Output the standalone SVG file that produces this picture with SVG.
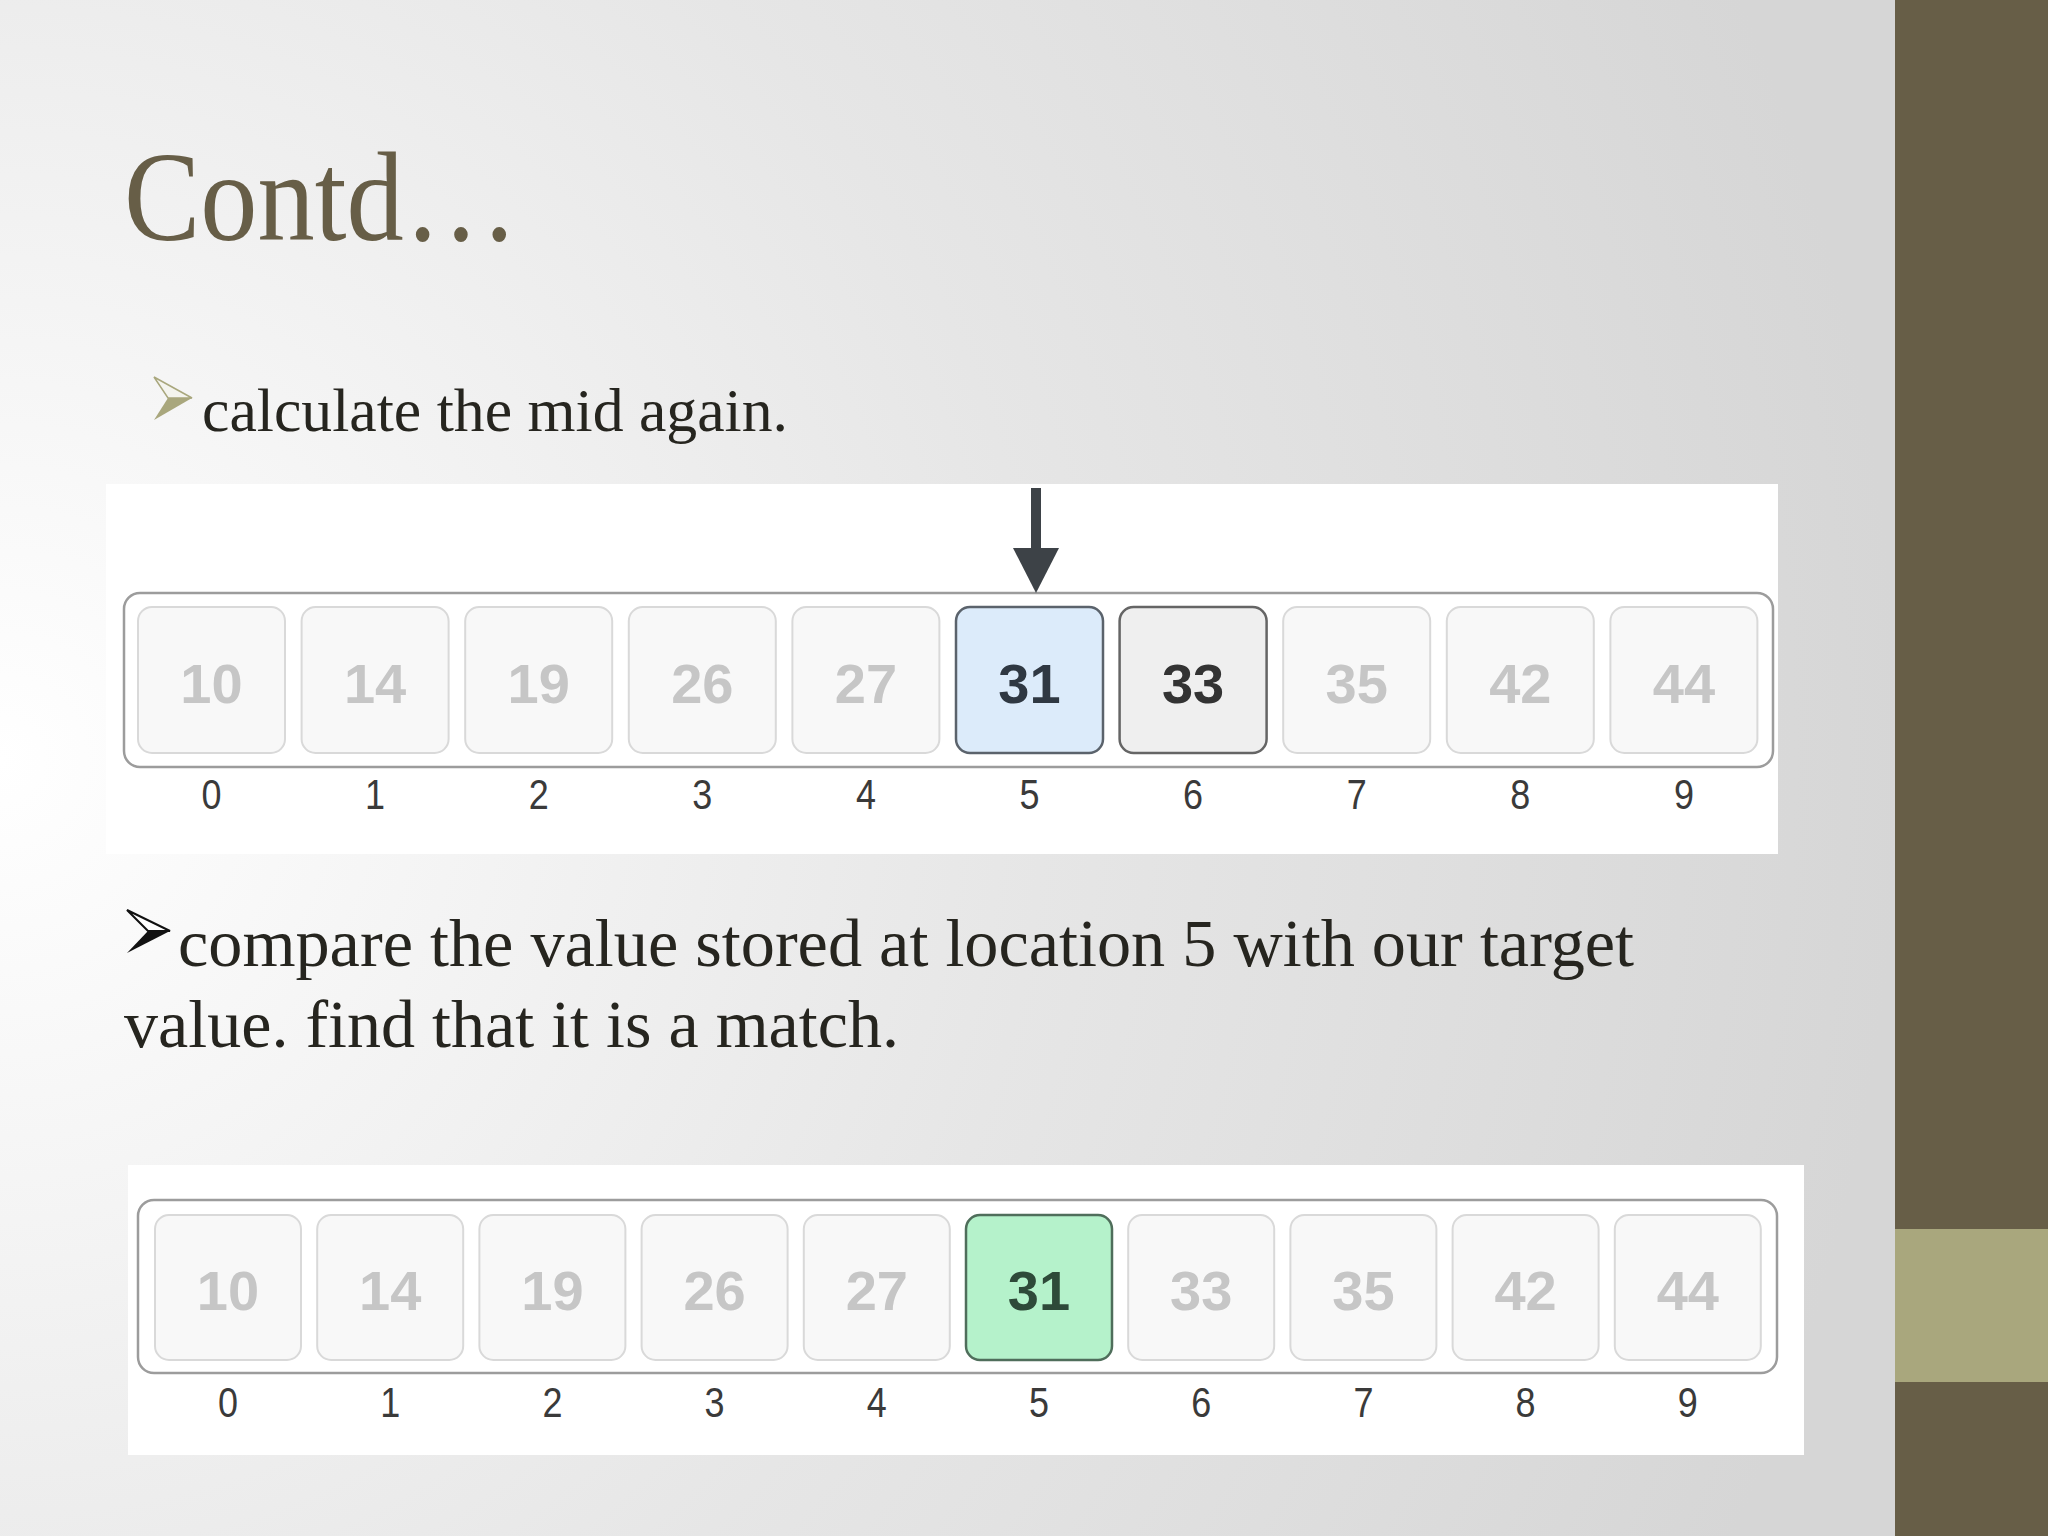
<svg xmlns="http://www.w3.org/2000/svg" width="2048" height="1536" viewBox="0 0 2048 1536">
  <defs>
    <radialGradient id="bg" gradientUnits="userSpaceOnUse" cx="0" cy="760" r="1900">
      <stop offset="0" stop-color="#ffffff"/>
      <stop offset="0.55" stop-color="#e6e6e6"/>
      <stop offset="1" stop-color="#d6d6d6"/>
    </radialGradient>
  </defs>
  <style>
    .title { font-family: "Liberation Serif", "Times New Roman", serif; font-size: 128px; fill: #675E47; }
    .body { font-family: "Liberation Serif", "Times New Roman", serif; fill: #26251f; }
    .outer { fill: #ffffff; stroke: #9c9c9c; stroke-width: 2.5; }
    .cell { fill: #f8f8f8; stroke: #d9d9d9; stroke-width: 2; }
    .val { font-family: "Liberation Sans", Arial, sans-serif; font-size: 56px; font-weight: bold; fill: #c6c6c6; text-anchor: middle; }
    .idx { font-family: "Liberation Sans", Arial, sans-serif; font-size: 42px; fill: #3a3a3a; text-anchor: middle; }
    .mid { fill: #dcebfa; stroke: #5b636c; stroke-width: 2.5; }
    .cmp { fill: #efefef; stroke: #656565; stroke-width: 2.5; }
    .found { fill: #b5f2cb; stroke: #4f6e5b; stroke-width: 2.5; }
  </style>

  <rect x="0" y="0" width="2048" height="1536" fill="url(#bg)"/>
  <rect x="1895" y="0" width="153" height="1536" fill="#675E47"/>
  <rect x="1895" y="1229" width="153" height="153" fill="#A9A77D"/>

  <text class="title" x="124" y="240" textLength="394" lengthAdjust="spacingAndGlyphs">Contd…</text>

  <g id="bullet1">
    <polygon points="154,377 192,398 168,398" fill="#f4f4ee" stroke="#a9a77d" stroke-width="1.5"/>
    <polygon points="168,398 192,398 154,420" fill="#a9a77d"/>
    <text class="body" x="202" y="431" font-size="62" textLength="586" lengthAdjust="spacingAndGlyphs">calculate the mid again.</text>
  </g>

  <g id="array-top">
    <rect x="106" y="484" width="1672" height="370" fill="#ffffff"/>
    <rect class="outer" x="124" y="593" width="1649" height="174" rx="16"/>
    <g id="top-cells">
      <g id="t0"><rect class="cell" x="138" y="607" width="147" height="146" rx="14"/><text class="val" x="211.5" y="703">10</text><text class="idx" x="211.5" y="809" textLength="20" lengthAdjust="spacingAndGlyphs">0</text></g>
      <g id="t1"><rect class="cell" x="301.6" y="607" width="147" height="146" rx="14"/><text class="val" x="375.1" y="703">14</text><text class="idx" x="375.1" y="809" textLength="20" lengthAdjust="spacingAndGlyphs">1</text></g>
      <g id="t2"><rect class="cell" x="465.2" y="607" width="147" height="146" rx="14"/><text class="val" x="538.7" y="703">19</text><text class="idx" x="538.7" y="809" textLength="20" lengthAdjust="spacingAndGlyphs">2</text></g>
      <g id="t3"><rect class="cell" x="628.8" y="607" width="147" height="146" rx="14"/><text class="val" x="702.3" y="703">26</text><text class="idx" x="702.3" y="809" textLength="20" lengthAdjust="spacingAndGlyphs">3</text></g>
      <g id="t4"><rect class="cell" x="792.4" y="607" width="147" height="146" rx="14"/><text class="val" x="865.9" y="703">27</text><text class="idx" x="865.9" y="809" textLength="20" lengthAdjust="spacingAndGlyphs">4</text></g>
      <g id="t5"><rect class="mid" x="956" y="607" width="147" height="146" rx="14"/><text class="val" x="1029.5" y="703" style="fill:#2f3842">31</text><text class="idx" x="1029.5" y="809" textLength="20" lengthAdjust="spacingAndGlyphs">5</text></g>
      <g id="t6"><rect class="cmp" x="1119.6" y="607" width="147" height="146" rx="14"/><text class="val" x="1193.1" y="703" style="fill:#333333">33</text><text class="idx" x="1193.1" y="809" textLength="20" lengthAdjust="spacingAndGlyphs">6</text></g>
      <g id="t7"><rect class="cell" x="1283.2" y="607" width="147" height="146" rx="14"/><text class="val" x="1356.7" y="703">35</text><text class="idx" x="1356.7" y="809" textLength="20" lengthAdjust="spacingAndGlyphs">7</text></g>
      <g id="t8"><rect class="cell" x="1446.8" y="607" width="147" height="146" rx="14"/><text class="val" x="1520.3" y="703">42</text><text class="idx" x="1520.3" y="809" textLength="20" lengthAdjust="spacingAndGlyphs">8</text></g>
      <g id="t9"><rect class="cell" x="1610.4" y="607" width="147" height="146" rx="14"/><text class="val" x="1683.9" y="703">44</text><text class="idx" x="1683.9" y="809" textLength="20" lengthAdjust="spacingAndGlyphs">9</text></g>
    </g>
  </g>

  <g id="connectors">
    <rect x="1031" y="488" width="10" height="62" fill="#3d4247"/>
    <polygon points="1013,548 1059,548 1036,593" fill="#3d4247"/>
  </g>

  <g id="bullet2">
    <polygon points="127,910 170,931 148,931" fill="#ffffff" stroke="#111111" stroke-width="2"/>
    <polygon points="148,931 170,931 127,953" fill="#111111"/>
    <text class="body" x="178" y="966" font-size="68" textLength="1456" lengthAdjust="spacingAndGlyphs">compare the value stored at location 5 with our target</text>
    <text class="body" x="124" y="1047" font-size="68" textLength="775" lengthAdjust="spacingAndGlyphs">value. find that it is a match.</text>
  </g>

  <g id="array-bottom">
    <rect x="128" y="1165" width="1676" height="290" fill="#ffffff"/>
    <rect class="outer" x="138" y="1200" width="1639" height="173" rx="16"/>
    <g id="bottom-cells">
      <g id="b0"><rect class="cell" x="155" y="1215" width="146" height="145" rx="14"/><text class="val" x="228" y="1310">10</text><text class="idx" x="228" y="1417" textLength="20" lengthAdjust="spacingAndGlyphs">0</text></g>
      <g id="b1"><rect class="cell" x="317.2" y="1215" width="146" height="145" rx="14"/><text class="val" x="390.2" y="1310">14</text><text class="idx" x="390.2" y="1417" textLength="20" lengthAdjust="spacingAndGlyphs">1</text></g>
      <g id="b2"><rect class="cell" x="479.4" y="1215" width="146" height="145" rx="14"/><text class="val" x="552.4" y="1310">19</text><text class="idx" x="552.4" y="1417" textLength="20" lengthAdjust="spacingAndGlyphs">2</text></g>
      <g id="b3"><rect class="cell" x="641.6" y="1215" width="146" height="145" rx="14"/><text class="val" x="714.6" y="1310">26</text><text class="idx" x="714.6" y="1417" textLength="20" lengthAdjust="spacingAndGlyphs">3</text></g>
      <g id="b4"><rect class="cell" x="803.8" y="1215" width="146" height="145" rx="14"/><text class="val" x="876.8" y="1310">27</text><text class="idx" x="876.8" y="1417" textLength="20" lengthAdjust="spacingAndGlyphs">4</text></g>
      <g id="b5"><rect class="found" x="966" y="1215" width="146" height="145" rx="14"/><text class="val" x="1039" y="1310" style="fill:#2e4a39">31</text><text class="idx" x="1039" y="1417" textLength="20" lengthAdjust="spacingAndGlyphs">5</text></g>
      <g id="b6"><rect class="cell" x="1128.2" y="1215" width="146" height="145" rx="14"/><text class="val" x="1201.2" y="1310">33</text><text class="idx" x="1201.2" y="1417" textLength="20" lengthAdjust="spacingAndGlyphs">6</text></g>
      <g id="b7"><rect class="cell" x="1290.4" y="1215" width="146" height="145" rx="14"/><text class="val" x="1363.4" y="1310">35</text><text class="idx" x="1363.4" y="1417" textLength="20" lengthAdjust="spacingAndGlyphs">7</text></g>
      <g id="b8"><rect class="cell" x="1452.6" y="1215" width="146" height="145" rx="14"/><text class="val" x="1525.6" y="1310">42</text><text class="idx" x="1525.6" y="1417" textLength="20" lengthAdjust="spacingAndGlyphs">8</text></g>
      <g id="b9"><rect class="cell" x="1614.8" y="1215" width="146" height="145" rx="14"/><text class="val" x="1687.8" y="1310">44</text><text class="idx" x="1687.8" y="1417" textLength="20" lengthAdjust="spacingAndGlyphs">9</text></g>
    </g>
  </g>
</svg>
